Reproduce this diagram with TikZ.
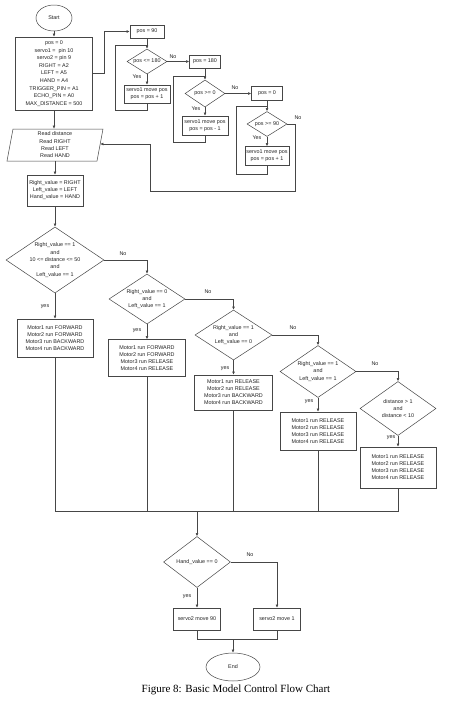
\documentclass[tikz,border=0pt]{standalone}
\usepackage{fontspec}
\setmainfont{Liberation Sans}
\newfontfamily\capfont{Liberation Serif}
\usetikzlibrary{shapes.geometric,arrows.meta,calc}
\definecolor{lc}{RGB}{70,70,70}
\definecolor{tc}{RGB}{35,35,35}
\tikzset{
  every node/.style={text=tc, font=\fontsize{5.4}{7}\selectfont},
  box/.style 2 args={rectangle, draw=lc, line width=0.5pt, inner sep=0pt, align=center, minimum width=#1, minimum height=#2},
  dia/.style 2 args={diamond, draw=lc, line width=0.5pt, inner sep=0pt, minimum width=#1, minimum height=#2},
  term/.style 2 args={ellipse, draw=lc, line width=0.5pt, inner sep=0pt, minimum width=#1, minimum height=#2},
  txt/.style={align=center, inner sep=0pt, font=\fontsize{5.4}{7.4}\selectfont},
  lbl/.style={inner sep=0pt},
  ln/.style={draw=lc, line width=0.5pt},
  arr/.style={ln, -{Latex[length=3.2pt,width=2.8pt]}}
}
\begin{document}
\begin{tikzpicture}[x=1pt,y=-1pt]
\fill[white] (0,0) rectangle (460,702);
\useasboundingbox (0,0) rectangle (460,702);

% start and init
\node[term={36}{26}] (start) at (54,18) {Start};
\node[box={77}{73}, font=\fontsize{5.4}{7.6}\selectfont] (init) at (54,73.5) {pos = 0\\servo1 =\ \ pin 10\\servo2 = pin 9\\RIGHT = A2\\LEFT = A5\\HAND = A4\\TRIGGER\_PIN = A1\\ECHO\_PIN = A0\\MAX\_DISTANCE = 500};

% servo sweep
\node[box={34}{13}] (p90) at (147,31.5) {pos = 90};
\node[dia={40}{25}] (dA) at (147,61.5) {};
\node[txt] (dAt) at (dA) {pos <= 180};
\node[box={46}{18}] (sA) at (147,94) {servo1 move pos\\pos = pos + 1};
\coordinate (jA) at (147,45);

\node[box={31}{13}] (p180) at (205,61.5) {pos = 180};
\node[dia={40}{27}] (dB) at (205,93.5) {};
\node[txt] (dBt) at (dB) {pos >= 0};
\node[box={46}{19}] (sB) at (205,125.5) {servo1 move pos\\pos = pos - 1};
\coordinate (jB) at (205,76);

\node[box={31}{14}] (p0) at (267,93.5) {pos = 0};
\node[dia={40}{25}] (dC) at (267,124) {};
\node[txt] (dCt) at (dC) {pos >= 90};
\node[box={44}{19}] (sC) at (267,156) {servo1 move pos\\pos = pos + 1};
\coordinate (jC) at (267,106);

% read
\draw[ln] (13,129) -- (103,129) -- (97,161) -- (7,161) -- cycle;
\node[txt, minimum width=84, minimum height=32, font=\fontsize{5.4}{7.3}\selectfont] (par) at (55,145) {Read distance\\Read RIGHT\\Read LEFT\\Read HAND};
\coordinate (parR) at (100.2,144);

\node[box={56}{31}] (asg) at (55,190.5) {Right\_value = RIGHT\\Left\_value = LEFT\\Hand\_value = HAND};

% decisions
\node[dia={98}{66}] (d1) at (55,260) {};
\node[txt] (d1t) at (d1) {Right\_value == 1\\and\\10 <= distance <= 50\\and\\Left\_value == 1};
\node[box={76}{38}] (b1) at (55,338) {Motor1 run FORWARD\\Motor2 run FORWARD\\Motor3 run BACKWARD\\Motor4 run BACKWARD};

\node[dia={76}{50}] (d2) at (147,299) {};
\node[txt] (d2t) at (d2) {Right\_value == 0\\and\\Left\_value == 1};
\node[box={77}{37}] (b2) at (147,358) {Motor1 run FORWARD\\Motor2 run FORWARD\\Motor3 run RELEASE\\Motor4 run RELEASE};

\node[dia={77}{50}] (d3) at (233.5,335) {};
\node[txt] (d3t) at (d3) {Right\_value == 1\\and\\Left\_value == 0};
\node[box={78}{35}] (b3) at (233.5,392.5) {Motor1 run RELEASE\\Motor2 run RELEASE\\Motor3 run BACKWARD\\Motor4 run BACKWARD};

\node[dia={76}{52}] (d4) at (318,371.5) {};
\node[txt] (d4t) at (d4) {Right\_value == 1\\and\\Left\_value == 1};
\node[box={76}{38}] (b4) at (318,431) {Motor1 run RELEASE\\Motor2 run RELEASE\\Motor3 run RELEASE\\Motor4 run RELEASE};

\node[dia={76}{54}] (d5) at (398,408.5) {};
\node[txt] (d5t) at (d5) {distance > 1\\and\\distance < 10};
\node[box={76}{41}] (b5) at (398,467.5) {Motor1 run RELEASE\\Motor2 run RELEASE\\Motor3 run RELEASE\\Motor4 run RELEASE};

\coordinate (m) at (197,511);

\node[dia={67}{51}] (dH) at (197,562) {};
\node[txt] (dHt) at (dH) {Hand\_value == 0};
\node[box={47}{22}] (sv90) at (197,619) {servo2 move 90};
\node[box={47}{22}] (sv1) at (277,619) {servo2 move 1};
\coordinate (n) at (233,639);
\node[term={54}{28}] (end) at (233,667) {End};

\node[inner sep=0pt, font=\capfont\fontsize{11}{13}\selectfont, text=black] (cap) at (236,690) {Figure 8: Basic Model Control Flow Chart};

% connectors
\draw[arr] (start) -- (init);
\draw[arr] (init.east) -- ++(11.5,0) |- (p90.west);
\draw[arr] (p90) -- (dA);
\draw[arr] (dA) -- (sA);
\draw[ln] (sA.south) |- (115,110) |- (jA);
\draw[arr] (dA.east) -- (p180.west);
\draw[arr] (p180) -- (dB);
\draw[arr] (dB) -- (sB);
\draw[ln] (sB.south) |- (173,142) |- (jB);
\draw[arr] (dB.east) -- (p0.west);
\draw[arr] (p0) -- (dC);
\draw[arr] (dC) -- (sC);
\draw[ln] (sC.south) |- (236,174) |- (jC);
\draw[arr] (dC.east) -| (295,191) -| (150,144) -- (parR);

\draw[arr] (init.south) -- (init.south |- par.north);
\draw[arr] (par.south) -- (asg.north);
\draw[arr] (asg) -- (d1);
\draw[arr] (d1) -- (b1);
\draw[arr] (d1.east) -| (d2.north);
\draw[arr] (d2) -- (b2);
\draw[arr] (d2.east) -| (d3.north);
\draw[arr] (d3) -- (b3);
\draw[arr] (d3.east) -| (d4.north);
\draw[arr] (d4) -- (b4);
\draw[arr] (d4.east) -| (d5.north);
\draw[arr] (d5) -- (b5);

\draw[ln] (b1.south) -- (b1.south |- m) -- (b5.south |- m) -- (b5.south);
\draw[ln] (b2.south) -- (b2.south |- m);
\draw[ln] (b3.south) -- (b3.south |- m);
\draw[ln] (b4.south) -- (b4.south |- m);
\draw[arr] (m) -- (dH);
\draw[arr] (dH) -- (sv90);
\draw[arr] (dH.east) -| (sv1.north);
\draw[ln] (sv90.south) |- (sv1.south |- n) -- (sv1.south);
\draw[arr] (n) -- (end);

% labels
\node[lbl] (lA1) at (137,77) {Yes};
\node[lbl] (lA2) at (173,57) {No};
\node[lbl] (lB1) at (196,109) {Yes};
\node[lbl] (lB2) at (235,88) {No};
\node[lbl] (lC1) at (257,138) {Yes};
\node[lbl] (lC2) at (298,118) {No};
\node[lbl] (l1y) at (45,307) {yes};
\node[lbl] (l1n) at (123,254) {No};
\node[lbl] (l2y) at (137,331) {yes};
\node[lbl] (l2n) at (208,292) {No};
\node[lbl] (l3y) at (225,369) {yes};
\node[lbl] (l3n) at (293,328) {No};
\node[lbl] (l4y) at (309,402) {yes};
\node[lbl] (l4n) at (375,364) {No};
\node[lbl] (l5y) at (391,438) {yes};
\node[lbl] (lHy) at (187,597) {yes};
\node[lbl] (lHn) at (250,555) {No};
\end{tikzpicture}
\end{document}
